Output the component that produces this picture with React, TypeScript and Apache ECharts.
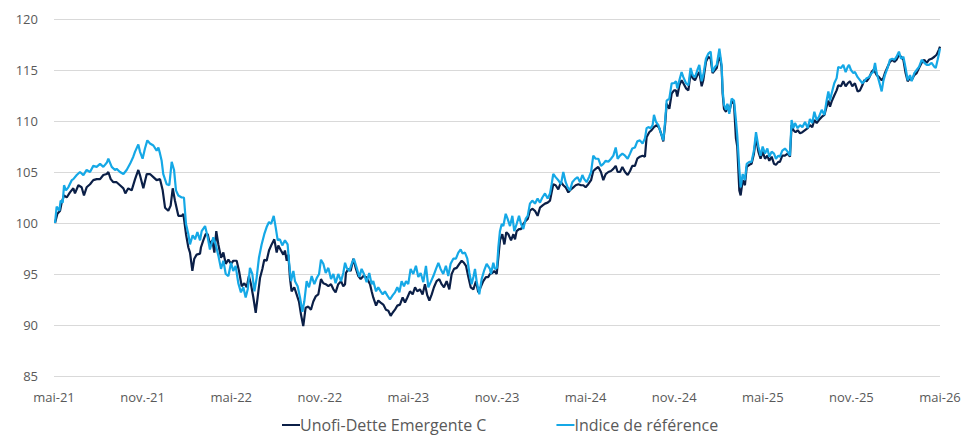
import React, { useEffect, useRef } from "react";
import * as echarts from "echarts";

// x = months elapsed since May 2021, y = base-100 value
const xTickLabels = ["mai-21", "nov.-21", "mai-22", "nov.-22", "mai-23", "nov.-23", "mai-24", "nov.-24", "mai-25", "nov.-25", "mai-26"];
const yTicks = { min: 85, max: 120, step: 5 };
const seriesNames = ["Unofi-Dette Emergente C", "Indice de référence"];

const fundPoints: [number, number][] = [
  [0.07, 100.0], [0.23, 100.9], [0.41, 101.2], [0.52, 102.0], [0.68, 102.7], [0.86, 102.5], [1.08, 103.0], [1.31, 103.4], [1.42, 102.9], [1.65, 103.7],
  [1.87, 103.5], [2.03, 102.7], [2.21, 103.5], [2.44, 103.8], [2.66, 104.2], [2.89, 104.3], [3.12, 104.3], [3.34, 104.7], [3.57, 104.8], [3.68, 105.0],
  [3.84, 104.3], [4.02, 104.0], [4.24, 104.0], [4.47, 103.7], [4.70, 103.4], [4.83, 102.9], [5.03, 103.4], [5.26, 103.2], [5.49, 104.3], [5.71, 105.2],
  [5.82, 104.7], [6.05, 103.4], [6.28, 104.8], [6.50, 104.8], [6.73, 104.5], [6.95, 104.2], [7.18, 104.3], [7.36, 103.2], [7.52, 101.5], [7.74, 101.2],
  [7.90, 101.7], [8.04, 103.4], [8.19, 102.2], [8.42, 100.7], [8.65, 100.7], [8.76, 100.9], [8.94, 98.9], [9.10, 97.6], [9.21, 97.1], [9.37, 95.3],
  [9.50, 96.5], [9.66, 96.9], [9.89, 97.0], [9.95, 97.6], [10.11, 98.3], [10.27, 98.9], [10.41, 98.9], [10.56, 97.9], [10.72, 98.3], [10.86, 97.1],
  [10.99, 99.2], [11.13, 97.9], [11.31, 96.6], [11.47, 97.1], [11.63, 96.0], [11.81, 96.4], [11.99, 96.0], [12.14, 96.3], [12.37, 96.3], [12.53, 95.3],
  [12.71, 93.8], [12.89, 94.1], [13.05, 93.7], [13.20, 94.8], [13.34, 94.0], [13.50, 92.7], [13.66, 91.2], [13.79, 92.7], [13.95, 94.6], [14.11, 95.5],
  [14.24, 96.4], [14.40, 96.3], [14.56, 97.3], [14.74, 97.9], [14.92, 98.4], [15.08, 97.1], [15.19, 97.8], [15.37, 97.3], [15.53, 96.9], [15.64, 97.3],
  [15.76, 96.3], [15.87, 96.9], [15.98, 94.6], [16.09, 93.3], [16.27, 93.7], [16.43, 93.0], [16.59, 92.3], [16.73, 91.0], [16.88, 89.9], [17.04, 91.7],
  [17.22, 91.8], [17.40, 91.5], [17.56, 92.3], [17.72, 92.8], [17.90, 93.0], [18.08, 94.5], [18.24, 94.1], [18.40, 94.0], [18.58, 93.8], [18.76, 94.0],
  [18.92, 93.5], [19.07, 93.2], [19.25, 94.0], [19.44, 94.3], [19.59, 93.8], [19.71, 94.0], [19.77, 95.1], [19.93, 95.5], [20.09, 95.3], [20.27, 96.5],
  [20.45, 95.5], [20.61, 94.8], [20.77, 94.5], [20.95, 94.8], [21.13, 94.7], [21.29, 94.3], [21.40, 94.0], [21.51, 93.3], [21.62, 92.7], [21.81, 91.9],
  [21.96, 92.4], [22.12, 92.2], [22.30, 92.0], [22.48, 91.5], [22.64, 91.4], [22.80, 90.9], [22.93, 91.2], [23.09, 91.5], [23.25, 91.9], [23.43, 92.0],
  [23.61, 92.7], [23.77, 92.2], [23.93, 92.7], [24.11, 93.3], [24.29, 93.0], [24.45, 93.7], [24.60, 93.3], [24.78, 93.5], [24.96, 93.0], [25.12, 94.0],
  [25.28, 92.9], [25.42, 92.4], [25.58, 93.0], [25.73, 93.7], [25.91, 94.3], [26.09, 94.5], [26.25, 94.0], [26.41, 93.7], [26.59, 94.3], [26.77, 93.5],
  [26.93, 95.0], [27.09, 95.5], [27.27, 95.6], [27.45, 96.0], [27.61, 96.3], [27.76, 96.1], [27.90, 95.8], [28.06, 94.7], [28.22, 93.7], [28.40, 93.5],
  [28.58, 94.3], [28.73, 93.2], [28.89, 93.7], [29.07, 94.3], [29.25, 94.7], [29.41, 94.7], [29.52, 95.0], [29.68, 95.1], [29.82, 95.3], [29.98, 95.0],
  [30.09, 96.6], [30.20, 98.3], [30.36, 98.9], [30.50, 97.9], [30.63, 99.1], [30.77, 98.9], [30.95, 98.3], [31.11, 98.9], [31.22, 98.4], [31.33, 99.2],
  [31.49, 99.4], [31.63, 99.4], [31.78, 99.9], [31.94, 100.2], [32.08, 100.4], [32.23, 101.2], [32.39, 101.4], [32.57, 101.2], [32.75, 100.7], [32.91, 101.5],
  [33.07, 101.7], [33.25, 101.9], [33.43, 102.0], [33.59, 102.2], [33.70, 103.0], [33.81, 103.8], [33.97, 103.7], [34.15, 103.3], [34.33, 104.0], [34.49, 103.7],
  [34.65, 103.5], [34.83, 103.0], [35.01, 103.3], [35.17, 103.5], [35.33, 103.7], [35.51, 103.8], [35.69, 103.7], [35.85, 103.7], [36.00, 103.5], [36.18, 103.8],
  [36.37, 104.2], [36.52, 105.1], [36.68, 105.3], [36.86, 105.5], [37.04, 105.0], [37.20, 104.2], [37.36, 104.8], [37.54, 105.0], [37.72, 105.1], [37.88, 105.3],
  [38.04, 105.6], [38.17, 105.0], [38.33, 105.0], [38.49, 105.5], [38.67, 105.0], [38.85, 104.7], [39.01, 105.1], [39.16, 105.6], [39.34, 105.6], [39.50, 106.3],
  [39.68, 106.5], [39.86, 106.6], [40.02, 106.5], [40.13, 108.4], [40.31, 108.9], [40.47, 109.1], [40.63, 109.4], [40.81, 109.6], [40.99, 109.3], [41.15, 108.6],
  [41.26, 108.0], [41.38, 109.6], [41.49, 111.7], [41.67, 111.2], [41.83, 112.7], [41.99, 113.0], [42.12, 113.0], [42.21, 112.4], [42.35, 113.5], [42.50, 114.0],
  [42.62, 113.7], [42.80, 113.2], [42.96, 113.0], [43.11, 114.7], [43.25, 114.2], [43.41, 114.0], [43.57, 114.5], [43.70, 114.8], [43.86, 113.4], [43.97, 114.0],
  [44.15, 115.8], [44.31, 116.3], [44.47, 116.1], [44.60, 114.7], [44.76, 115.0], [44.88, 115.2], [45.06, 116.6], [45.21, 115.3], [45.28, 112.7], [45.37, 111.2],
  [45.51, 110.9], [45.60, 111.6], [45.73, 110.9], [45.89, 111.9], [46.05, 111.7], [46.18, 108.3], [46.27, 107.5], [46.41, 103.2], [46.50, 102.7], [46.64, 104.2],
  [46.79, 103.7], [46.91, 105.5], [47.09, 105.7], [47.24, 105.8], [47.40, 106.8], [47.54, 108.4], [47.70, 107.0], [47.85, 106.3], [47.99, 107.0], [48.15, 106.3],
  [48.31, 106.6], [48.44, 106.1], [48.60, 106.5], [48.76, 105.8], [48.89, 105.7], [49.05, 106.0], [49.16, 106.0], [49.32, 106.6], [49.50, 106.6], [49.68, 106.8],
  [49.84, 106.5], [49.95, 109.6], [50.07, 109.1], [50.22, 108.9], [50.36, 109.1], [50.52, 108.8], [50.68, 108.9], [50.86, 109.1], [51.04, 109.3], [51.19, 109.6],
  [51.35, 109.4], [51.49, 110.1], [51.65, 109.8], [51.80, 110.1], [51.99, 110.4], [52.17, 110.6], [52.32, 111.4], [52.44, 112.0], [52.55, 111.4], [52.66, 111.9],
  [52.84, 112.5], [53.00, 113.0], [53.11, 113.5], [53.29, 113.4], [53.45, 113.9], [53.61, 113.4], [53.75, 113.7], [53.90, 113.9], [54.06, 113.4], [54.24, 113.7],
  [54.42, 112.9], [54.58, 113.0], [54.74, 113.5], [54.87, 114.0], [55.03, 113.9], [55.19, 114.2], [55.37, 114.8], [55.48, 115.0], [55.60, 114.8], [55.71, 114.5],
  [55.87, 114.3], [56.05, 114.0], [56.16, 114.2], [56.27, 114.7], [56.45, 115.3], [56.61, 115.8], [56.77, 116.0], [56.91, 115.8], [57.06, 116.0], [57.22, 116.5],
  [57.36, 116.3], [57.52, 116.0], [57.67, 114.7], [57.81, 113.9], [57.97, 114.2], [58.08, 114.0], [58.26, 114.5], [58.42, 114.7], [58.58, 115.2], [58.76, 115.7],
  [58.94, 116.0], [59.10, 115.7], [59.25, 116.0], [59.43, 116.1], [59.62, 116.3], [59.77, 116.5], [59.93, 117.0], [60.00, 117.3],
];

const indexPoints: [number, number][] = [
  [0.07, 100.0], [0.18, 101.6], [0.36, 101.2], [0.45, 102.2], [0.59, 102.0], [0.68, 103.7], [0.81, 103.2], [0.97, 103.5], [1.20, 104.2], [1.31, 104.3],
  [1.54, 104.7], [1.76, 105.0], [1.99, 104.7], [2.21, 105.2], [2.44, 105.0], [2.66, 105.6], [2.89, 105.5], [3.12, 105.8], [3.34, 105.5], [3.57, 105.9],
  [3.68, 106.3], [3.91, 105.5], [4.13, 105.2], [4.24, 105.3], [4.47, 105.0], [4.70, 104.8], [4.92, 105.2], [5.15, 105.8], [5.37, 106.5], [5.49, 107.0],
  [5.71, 107.7], [5.82, 107.0], [6.00, 106.3], [6.16, 107.3], [6.32, 108.1], [6.50, 107.8], [6.73, 107.6], [6.95, 107.1], [7.07, 107.4], [7.18, 106.8],
  [7.29, 106.1], [7.40, 104.8], [7.63, 103.8], [7.81, 103.7], [7.97, 106.0], [8.13, 105.2], [8.26, 103.2], [8.42, 102.7], [8.65, 102.5], [8.80, 102.5],
  [8.94, 99.9], [9.10, 98.9], [9.21, 97.9], [9.39, 98.8], [9.55, 98.4], [9.71, 99.1], [9.89, 98.3], [10.00, 99.2], [10.23, 99.7], [10.41, 98.6],
  [10.56, 97.4], [10.79, 98.6], [10.95, 97.9], [11.13, 96.8], [11.31, 95.5], [11.47, 96.3], [11.63, 95.0], [11.81, 94.8], [11.99, 96.1], [12.14, 95.3],
  [12.30, 95.8], [12.48, 94.1], [12.66, 93.2], [12.82, 93.7], [12.98, 92.7], [13.12, 93.5], [13.27, 95.6], [13.43, 95.0], [13.57, 93.3], [13.72, 94.6],
  [13.88, 96.6], [14.06, 97.9], [14.24, 98.9], [14.40, 99.6], [14.56, 100.1], [14.70, 99.9], [14.88, 100.7], [15.01, 99.6], [15.15, 98.3], [15.30, 98.4],
  [15.46, 97.8], [15.64, 98.3], [15.82, 97.9], [15.91, 96.3], [16.05, 94.3], [16.21, 95.3], [16.32, 94.3], [16.50, 93.8], [16.66, 92.7], [16.82, 91.3],
  [16.95, 92.3], [17.11, 94.3], [17.27, 93.7], [17.45, 94.8], [17.63, 94.0], [17.79, 94.6], [17.95, 95.0], [18.08, 96.4], [18.24, 96.0], [18.40, 95.1],
  [18.58, 95.6], [18.76, 94.5], [18.92, 95.0], [19.07, 94.1], [19.25, 95.0], [19.44, 94.3], [19.59, 95.1], [19.71, 96.1], [19.82, 95.6], [20.00, 95.3],
  [20.16, 96.0], [20.31, 96.5], [20.50, 95.6], [20.68, 94.7], [20.83, 95.5], [20.99, 95.0], [21.17, 94.2], [21.35, 95.1], [21.51, 94.0], [21.62, 94.3],
  [21.81, 93.3], [21.96, 93.7], [22.12, 93.3], [22.26, 93.0], [22.41, 93.3], [22.57, 92.9], [22.75, 92.5], [22.93, 92.9], [23.09, 93.2], [23.25, 93.7],
  [23.39, 93.2], [23.54, 94.3], [23.70, 93.8], [23.84, 94.3], [23.99, 94.0], [24.15, 95.5], [24.33, 95.0], [24.51, 95.8], [24.67, 94.7], [24.83, 95.1],
  [25.01, 94.2], [25.19, 95.8], [25.35, 93.7], [25.51, 94.2], [25.69, 94.8], [25.87, 95.5], [26.03, 96.1], [26.18, 95.5], [26.36, 95.0], [26.54, 95.8],
  [26.70, 94.8], [26.86, 96.0], [27.04, 96.5], [27.22, 96.5], [27.38, 97.1], [27.54, 97.4], [27.67, 97.0], [27.83, 97.1], [27.99, 96.5], [28.13, 95.1],
  [28.28, 94.0], [28.40, 94.7], [28.51, 95.5], [28.62, 94.3], [28.80, 93.0], [28.96, 94.5], [29.12, 95.3], [29.30, 96.0], [29.52, 95.5], [29.59, 95.0],
  [29.75, 96.1], [29.86, 95.5], [30.00, 95.6], [30.09, 97.6], [30.20, 99.2], [30.32, 99.9], [30.43, 99.7], [30.59, 100.9], [30.72, 100.4], [30.88, 99.7],
  [31.04, 100.7], [31.17, 99.2], [31.33, 99.9], [31.49, 100.7], [31.63, 99.9], [31.78, 99.4], [31.94, 100.4], [32.08, 100.7], [32.23, 101.9], [32.39, 102.2],
  [32.57, 101.9], [32.75, 102.4], [32.91, 102.0], [33.07, 102.5], [33.25, 102.9], [33.43, 102.4], [33.59, 102.9], [33.70, 103.8], [33.81, 104.8], [33.97, 104.5],
  [34.15, 104.2], [34.33, 103.8], [34.49, 105.0], [34.65, 104.0], [34.79, 103.5], [34.94, 103.2], [35.10, 104.0], [35.28, 104.3], [35.46, 104.5], [35.62, 104.0],
  [35.78, 104.7], [35.91, 104.3], [36.07, 104.0], [36.23, 104.5], [36.37, 105.0], [36.52, 106.6], [36.68, 106.3], [36.86, 106.3], [37.04, 105.6], [37.20, 105.8],
  [37.36, 106.1], [37.54, 106.0], [37.72, 106.3], [37.88, 106.6], [38.04, 107.4], [38.17, 106.3], [38.33, 106.6], [38.49, 106.8], [38.67, 106.6], [38.85, 106.3],
  [39.01, 106.8], [39.16, 107.3], [39.34, 107.4], [39.50, 108.0], [39.68, 108.1], [39.86, 107.8], [40.02, 108.3], [40.13, 109.3], [40.25, 109.4], [40.41, 109.3],
  [40.54, 109.6], [40.63, 110.6], [40.77, 109.9], [40.93, 109.6], [41.08, 108.9], [41.26, 108.1], [41.38, 109.9], [41.49, 112.0], [41.67, 112.2], [41.83, 113.7],
  [41.99, 113.7], [42.12, 113.9], [42.21, 113.2], [42.35, 114.0], [42.50, 114.8], [42.62, 114.3], [42.80, 113.7], [42.96, 113.5], [43.11, 115.2], [43.25, 114.5],
  [43.41, 114.3], [43.57, 115.0], [43.70, 115.5], [43.86, 113.9], [43.97, 114.5], [44.15, 116.1], [44.31, 116.6], [44.47, 116.8], [44.60, 114.8], [44.76, 115.3],
  [44.88, 115.5], [45.06, 117.1], [45.21, 115.5], [45.28, 113.0], [45.37, 111.6], [45.51, 111.1], [45.60, 111.7], [45.73, 110.7], [45.89, 112.2], [46.05, 112.0],
  [46.18, 110.1], [46.27, 108.6], [46.41, 105.3], [46.50, 103.5], [46.64, 104.8], [46.79, 104.2], [46.91, 105.8], [47.09, 106.0], [47.24, 106.0], [47.40, 107.1],
  [47.54, 108.9], [47.70, 107.5], [47.85, 106.6], [47.99, 107.5], [48.15, 106.8], [48.31, 107.3], [48.44, 106.5], [48.60, 107.0], [48.76, 106.8], [48.89, 106.3],
  [49.05, 106.6], [49.16, 106.5], [49.32, 107.1], [49.50, 107.3], [49.68, 107.0], [49.84, 106.6], [49.95, 110.1], [50.07, 109.3], [50.18, 109.8], [50.36, 109.3],
  [50.52, 109.6], [50.68, 109.4], [50.86, 109.9], [51.04, 109.3], [51.19, 110.2], [51.35, 109.8], [51.49, 110.9], [51.65, 110.1], [51.80, 110.4], [51.99, 111.1],
  [52.17, 110.6], [52.32, 112.0], [52.44, 112.9], [52.55, 112.0], [52.66, 112.7], [52.84, 113.7], [53.00, 114.2], [53.11, 115.3], [53.29, 115.2], [53.45, 115.5],
  [53.61, 114.8], [53.75, 115.3], [53.84, 115.5], [53.97, 115.0], [54.13, 114.7], [54.24, 114.8], [54.42, 114.3], [54.58, 114.0], [54.74, 113.7], [54.87, 113.9],
  [55.03, 114.2], [55.19, 114.3], [55.37, 114.7], [55.48, 114.8], [55.60, 115.7], [55.71, 114.7], [55.87, 113.9], [56.05, 112.9], [56.16, 113.9], [56.27, 114.5],
  [56.45, 115.2], [56.61, 116.0], [56.77, 116.1], [56.91, 116.0], [57.06, 116.3], [57.22, 116.8], [57.36, 116.1], [57.52, 116.3], [57.67, 115.2], [57.81, 114.0],
  [57.97, 114.5], [58.08, 113.9], [58.26, 114.7], [58.42, 115.0], [58.58, 115.3], [58.76, 116.0], [58.94, 115.7], [59.10, 115.5], [59.25, 115.5], [59.43, 115.7],
  [59.62, 115.3], [59.71, 115.2], [59.84, 116.0], [59.93, 116.6], [60.00, 117.1],
];

const FONT = "'Open Sans', 'Noto Sans', sans-serif";
const DARK = "#0b1f47";
const LIGHT = "#15a8e6";

export default function App() {
  const ref = useRef<HTMLDivElement>(null);
  useEffect(() => {
    if (!ref.current) return;
    const chart = echarts.init(ref.current, undefined, { renderer: "svg" });
    chart.setOption({
      animation: false,
      grid: { left: 54, right: 25, top: 19, bottom: 59, containLabel: false },
      xAxis: {
        type: "value",
        min: 0,
        max: (xTickLabels.length - 1) * 6,
        interval: 6,
        axisLine: { show: false },
        axisTick: { show: false },
        splitLine: { show: false },
        axisLabel: {
          color: "#595959",
          fontFamily: FONT,
          fontSize: 13,
          margin: 14,
          formatter: (v: number) => xTickLabels[Math.round(v / 6)] ?? "",
        },
      },
      yAxis: {
        type: "value",
        min: yTicks.min,
        max: yTicks.max,
        interval: yTicks.step,
        axisLine: { show: false },
        axisTick: { show: false },
        splitLine: { lineStyle: { color: "#d9d9d9", width: 1 } },
        axisLabel: { color: "#595959", fontFamily: FONT, fontSize: 13, margin: 16 },
      },
      legend: {
        left: 282,
        top: 417,
        padding: 0,
        itemGap: 70,
        itemWidth: 18,
        itemHeight: 2,
        icon: "rect",
        textStyle: { color: "#595959", fontFamily: FONT, fontSize: 16, padding: [0, 0, 0, -5] },
        data: seriesNames,
      },
      series: [
        {
          name: seriesNames[0],
          type: "line",
          data: fundPoints,
          showSymbol: false,
          symbol: "none",
          lineStyle: { color: DARK, width: 2.2 },
          itemStyle: { color: DARK },
        },
        {
          name: seriesNames[1],
          type: "line",
          data: indexPoints,
          showSymbol: false,
          symbol: "none",
          lineStyle: { color: LIGHT, width: 2.2 },
          itemStyle: { color: LIGHT },
        },
      ],
    });
    return () => chart.dispose();
  }, []);
  return <div ref={ref} style={{ position: "fixed", left: 0, top: 0, width: 965, height: 435, background: "#fff" }} />;
}
